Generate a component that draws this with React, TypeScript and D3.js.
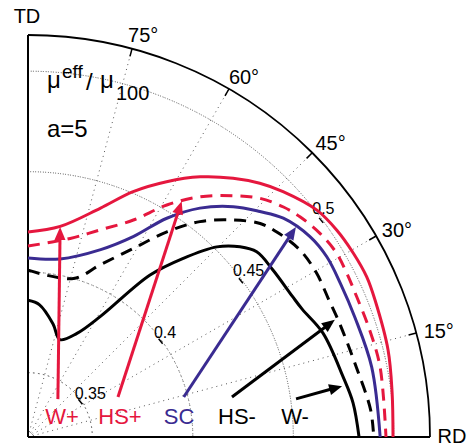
import React, { useEffect, useRef } from "react";
import * as d3 from "d3";

// polar chart: angle from RD (deg), normalized mobility value
const angleTicks = [15, 30, 45, 60, 75];
const ringValues = [0.35, 0.4, 0.45, 0.5];
const ringLabels = ["0.35", "0.4", "0.45", "0.5"];

const wPlus: [number, number][] = [
  [90, 0.42], [81.3, 0.424], [72.5, 0.4373], [66.8, 0.4508], [61.5, 0.4625],
  [56.5, 0.4732], [51.6, 0.4823], [47.6, 0.489], [43.9, 0.4941], [38.2, 0.5007],
  [33.8, 0.5029], [29.5, 0.5039], [25.3, 0.5044], [21.5, 0.5036], [13.6, 0.5023],
  [7, 0.5005], [0, 0.4996],
];
const hsPlus: [number, number][] = [
  [90, 0.413], [78, 0.419], [70.8, 0.4271], [64.1, 0.438], [59.1, 0.4525],
  [54.4, 0.465], [49.6, 0.4756], [45.8, 0.4836], [42, 0.489], [39, 0.4921],
  [34.9, 0.4951], [30.8, 0.4967], [27.2, 0.4963], [23.1, 0.4958], [17.4, 0.4961],
  [11.3, 0.4966], [0, 0.4961],
];
const sc: [number, number][] = [
  [90, 0.407], [79.8, 0.408], [68.8, 0.418], [62.3, 0.4306], [57.6, 0.4469],
  [53.1, 0.4604], [48.3, 0.4715], [44.2, 0.4789], [40.6, 0.4853], [35.4, 0.4901],
  [31.1, 0.4916], [26.2, 0.4912], [20, 0.4912], [11.5, 0.4925], [0, 0.4932],
];
const hsMinus: [number, number][] = [
  [90, 0.401], [74, 0.4], [67.3, 0.4108], [60.8, 0.4255], [55.9, 0.4413],
  [51.4, 0.4551], [46.6, 0.4666], [42.6, 0.4749], [39.5, 0.4784], [34.5, 0.4822],
  [29.6, 0.4831], [24.5, 0.4825], [20, 0.483], [12, 0.485], [4.5, 0.489], [0, 0.49],
];
const wMinus: [number, number][] = [
  [90, 0.386], [85, 0.384], [77.5, 0.3756], [71.9, 0.369], [64.7, 0.375],
  [59, 0.388], [53, 0.4189], [49, 0.4358], [45.2, 0.4513], [41.9, 0.4597],
  [39, 0.4644], [34.3, 0.4655], [28, 0.467], [25, 0.4685], [19.4, 0.4736],
  [10.8, 0.4776], [6, 0.4806], [0, 0.4827],
];

const seriesNames = ["W+", "HS+", "SC", "HS-", "W-"];
const seriesData = [wPlus, hsPlus, sc, hsMinus, wMinus];
// arrow tail / tip in (angle, value)
const arrowTails: [number, number][] = [[51.7, 0.342], [24, 0.367], [14.4, 0.398], [11.1, 0.4214], [8.1, 0.4527]];
const arrowTips: [number, number][] = [[81.3, 0.4237], [56.9, 0.458], [38.1, 0.4874], [20.9, 0.4814], [9.2, 0.4763]];

const RED = "#e5173e";
const BLUE = "#3a2b91";
const styles = [
  { color: RED, dash: null },
  { color: RED, dash: "12 8" },
  { color: BLUE, dash: null },
  { color: "#000", dash: "12 8" },
  { color: "#000", dash: null },
];
const labelX = [62, 120, 179, 237, 295];

const W = 468, H = 447;
const FONT = "'Liberation Sans', Arial, sans-serif";

function PolarChart() {
  const ref = useRef<SVGSVGElement>(null);

  useEffect(() => {
    const svg = d3.select(ref.current);
    svg.selectAll("*").remove();

    const ox = 28, oy = 437, R = 402;
    const r = d3.scaleLinear().domain([0.318, 0.518]).range([0, R]);
    const rad = (a: number) => (a * Math.PI) / 180;
    const xy = (a: number, rr: number) => [rr * Math.cos(rad(a)), -rr * Math.sin(rad(a))];

    const g = svg.append("g").attr("transform", `translate(${ox},${oy})`);

    // dotted grid
    const arc = d3.arc<number>()
      .innerRadius(d => r(d)).outerRadius(d => r(d))
      .startAngle(0).endAngle(Math.PI / 2);
    g.selectAll("path.ring").data(ringValues).join("path")
      .attr("class", "ring")
      .attr("d", d => arc(d))
      .attr("fill", "none").attr("stroke", "#555").attr("stroke-width", 1)
      .attr("stroke-dasharray", "1 4");
    g.selectAll("line.spoke").data(angleTicks).join("line")
      .attr("class", "spoke")
      .attr("x1", 0).attr("y1", 0)
      .attr("x2", d => xy(d, R)[0]).attr("y2", d => xy(d, R)[1])
      .attr("stroke", "#555").attr("stroke-width", 1).attr("stroke-dasharray", "1 4");

    // frame
    g.append("path")
      .attr("d", d3.arc()({ innerRadius: R, outerRadius: R, startAngle: 0, endAngle: Math.PI / 2 } as any))
      .attr("fill", "none").attr("stroke", "#000").attr("stroke-width", 1.8);
    g.append("line").attr("x1", 0).attr("y1", 0).attr("x2", 0).attr("y2", -R)
      .attr("stroke", "#000").attr("stroke-width", 2);
    g.append("line").attr("x1", 0).attr("y1", 0).attr("x2", R).attr("y2", 0)
      .attr("stroke", "#000").attr("stroke-width", 2);
    g.selectAll("line.tick").data(angleTicks).join("line")
      .attr("class", "tick")
      .attr("x1", d => xy(d, R - 8)[0]).attr("y1", d => xy(d, R - 8)[1])
      .attr("x2", d => xy(d, R)[0]).attr("y2", d => xy(d, R)[1])
      .attr("stroke", "#000").attr("stroke-width", 1.5);

    // angle labels
    g.selectAll("text.ang").data(angleTicks).join("text")
      .attr("class", "ang")
      .attr("x", d => xy(d, R + 16)[0] + 7)
      .attr("y", d => xy(d, R + 16)[1] + 2)
      .attr("text-anchor", "middle").attr("dominant-baseline", "central")
      .attr("font-family", FONT).attr("font-size", 20)
      .text(d => `${d}°`);

    // ring labels
    const ringAng = 38;
    g.selectAll("line.rtick").data(ringValues).join("line")
      .attr("class", "rtick")
      .attr("x1", d => xy(ringAng - 1, r(d))[0] - 1).attr("y1", d => xy(ringAng - 1, r(d))[1] + 1)
      .attr("x2", d => xy(ringAng - 1, r(d))[0] + 3).attr("y2", d => xy(ringAng - 1, r(d))[1] + 6)
      .attr("stroke", "#000").attr("stroke-width", 1.5);
    g.selectAll("text.rlab").data(ringValues).join("text")
      .attr("class", "rlab")
      .attr("x", d => xy(ringAng, r(d))[0] - 4)
      .attr("y", d => xy(ringAng, r(d))[1] + 2)
      .attr("font-family", FONT).attr("font-size", 16)
      .text((d, i) => ringLabels[i]);

    // curves
    const line = d3.lineRadial<[number, number]>()
      .angle(d => rad(90 - d[0]))
      .radius(d => r(d[1]))
      .curve(d3.curveCatmullRom.alpha(0.5));
    g.selectAll("path.curve").data(seriesData).join("path")
      .attr("class", "curve")
      .attr("d", d => line(d))
      .attr("fill", "none")
      .attr("stroke", (d, i) => styles[i].color)
      .attr("stroke-width", 3)
      .attr("stroke-dasharray", (d, i) => styles[i].dash);

    // arrows
    seriesNames.forEach((name, i) => {
      const [tx, ty] = xy(arrowTails[i][0], r(arrowTails[i][1]));
      const [hx, hy] = xy(arrowTips[i][0], r(arrowTips[i][1]));
      const len = Math.hypot(hx - tx, hy - ty);
      const ux = (hx - tx) / len, uy = (hy - ty) / len;
      const hl = 13, hw = 5.5;
      const bx = hx - ux * hl, by = hy - uy * hl;
      g.append("line")
        .attr("x1", tx).attr("y1", ty).attr("x2", bx + ux * 2).attr("y2", by + uy * 2)
        .attr("stroke", styles[i].color).attr("stroke-width", 3);
      g.append("path")
        .attr("d", `M${hx},${hy}L${bx - uy * hw},${by + ux * hw}L${bx + uy * hw},${by - ux * hw}Z`)
        .attr("fill", styles[i].color);
    });

    // series labels
    svg.selectAll("text.slab").data(seriesNames).join("text")
      .attr("class", "slab")
      .attr("x", (d, i) => labelX[i]).attr("y", 424)
      .attr("text-anchor", "middle")
      .attr("font-family", FONT).attr("font-size", 22)
      .attr("fill", (d, i) => styles[i].color)
      .text(d => d);

    // axis names and title
    svg.append("text").attr("x", 27).attr("y", 23).attr("text-anchor", "middle")
      .attr("font-family", FONT).attr("font-size", 20).text("TD");
    svg.append("text").attr("x", 452).attr("y", 443).attr("text-anchor", "middle")
      .attr("font-family", FONT).attr("font-size", 20).text("RD");

    const t = svg.append("text").attr("font-family", FONT);
    t.append("tspan").attr("x", 47).attr("y", 88).attr("font-size", 24).text("μ");
    t.append("tspan").attr("x", 62).attr("y", 78).attr("font-size", 19).text("eff");
    t.append("tspan").attr("x", 86).attr("y", 90).attr("font-size", 24).text("/");
    t.append("tspan").attr("x", 100).attr("y", 88).attr("font-size", 24).text("μ");
    t.append("tspan").attr("x", 116).attr("y", 100).attr("font-size", 20).text("100");
    svg.append("text").attr("x", 47).attr("y", 137)
      .attr("font-family", FONT).attr("font-size", 24).text("a=5");
  }, []);

  return (
    <svg ref={ref} width={W} height={H}
      style={{ position: "absolute", left: 0, top: 0, background: "#fff" }} />
  );
}

export default function App() {
  return <PolarChart />;
}
